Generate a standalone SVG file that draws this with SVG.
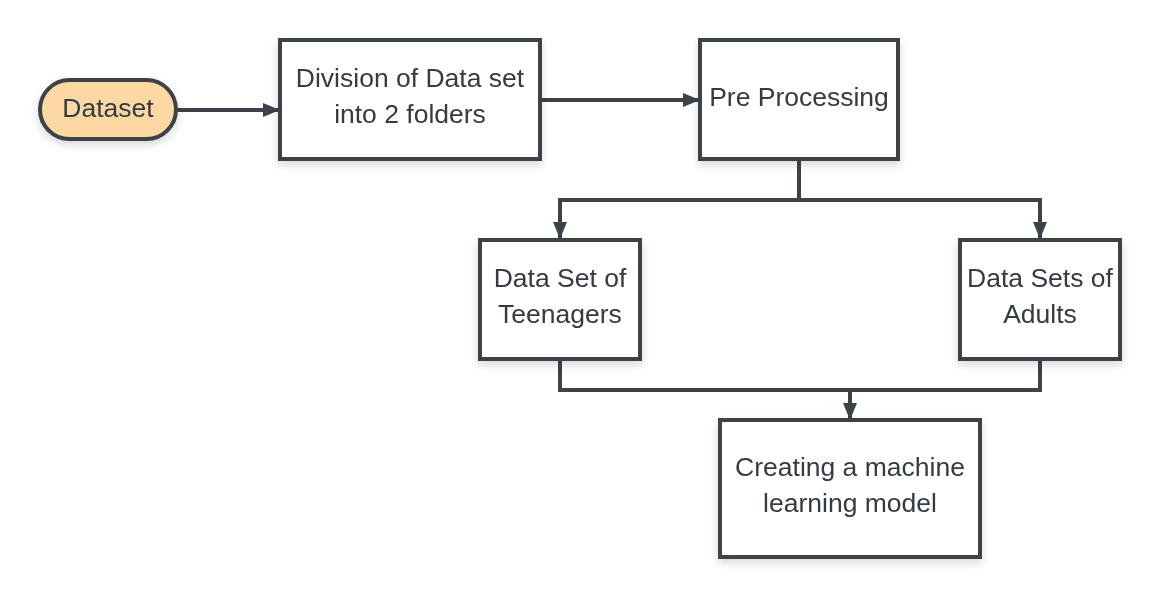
<svg xmlns="http://www.w3.org/2000/svg" width="1160" height="598" viewBox="0 0 1160 598">
<style>
.box{fill:#ffffff;stroke:#3d4248;stroke-width:4}
.pill{fill:#fcd9a3;stroke:#3d4248;stroke-width:4}
.t{font-family:"Liberation Sans",Arial,sans-serif;font-size:26.5px;fill:#343a42;text-anchor:middle}
.c{fill:none;stroke:#3d4248;stroke-width:4}
</style>
<defs>
<filter id="sh" x="-10%" y="-10%" width="130%" height="130%">
<feDropShadow dx="0" dy="4" stdDeviation="4" flood-color="#000" flood-opacity="0.15"/>
</filter>
<marker id="ah" markerWidth="17" markerHeight="14" refX="16" refY="7" orient="auto" markerUnits="userSpaceOnUse">
<path d="M0,0 L17,7 L0,14 Z" fill="#3d4248"/>
</marker>
</defs>
<g id="connectors">
<path class="c" d="M176,110 L279,110" marker-end="url(#ah)"/>
<path class="c" d="M540,100 L699,100" marker-end="url(#ah)"/>
<path class="c" d="M799,159 L799,200 L560,200 L560,238" marker-end="url(#ah)"/>
<path class="c" d="M799,200 L1040,200 L1040,238" marker-end="url(#ah)"/>
<path class="c" d="M560,359 L560,390 L1040,390 L1040,359"/>
<path class="c" d="M850,390 L850,419" marker-end="url(#ah)"/>
</g>
<g id="dataset" filter="url(#sh)">
<rect class="pill" x="40" y="80" width="136" height="59" rx="29.5"/>
<text class="t" x="108" y="117">Dataset</text>
</g>
<g id="division" filter="url(#sh)">
<rect class="box" x="280" y="40" width="260" height="119"/>
<text class="t" x="410" y="87">Division of Data set</text>
<text class="t" x="410" y="123">into 2 folders</text>
</g>
<g id="preprocessing" filter="url(#sh)">
<rect class="box" x="700" y="40" width="198" height="119"/>
<text class="t" x="799" y="106">Pre Processing</text>
</g>
<g id="teenagers" filter="url(#sh)">
<rect class="box" x="480" y="240" width="160" height="119"/>
<text class="t" x="560" y="287">Data Set of</text>
<text class="t" x="560" y="323">Teenagers</text>
</g>
<g id="adults" filter="url(#sh)">
<rect class="box" x="960" y="240" width="160" height="119"/>
<text class="t" x="1040" y="287">Data Sets of</text>
<text class="t" x="1040" y="323">Adults</text>
</g>
<g id="model" filter="url(#sh)">
<rect class="box" x="720" y="420" width="260" height="137"/>
<text class="t" x="850" y="476">Creating a machine</text>
<text class="t" x="850" y="512">learning model</text>
</g>
</svg>
